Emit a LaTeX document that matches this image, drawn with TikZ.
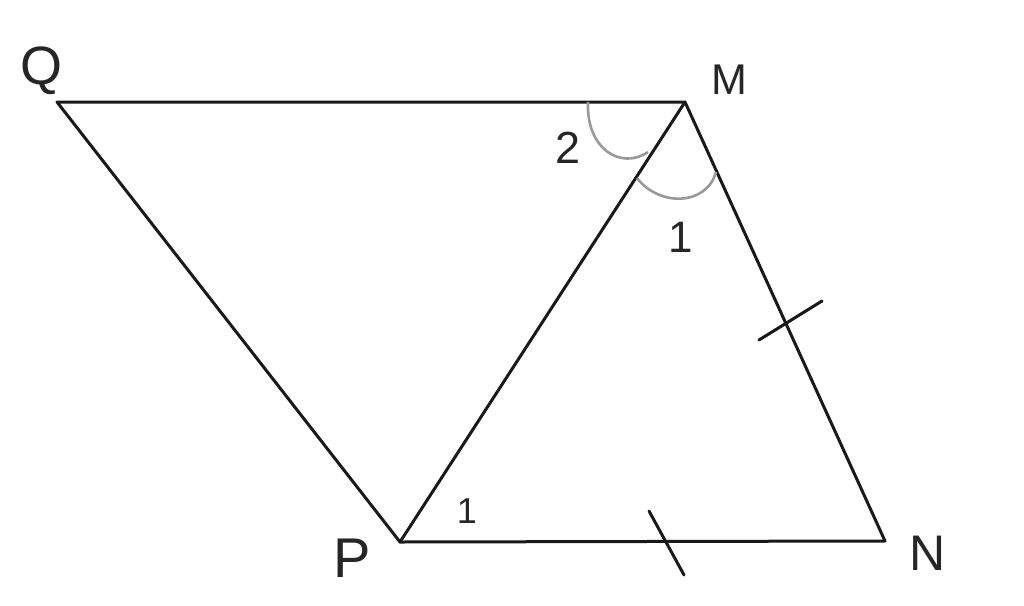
\documentclass[tikz,border=0pt]{standalone}
\usepackage{fontspec}
\setmainfont{Liberation Sans}
\begin{document}
\begin{tikzpicture}[x=1pt,y=-1pt,
  seg/.style={line width=3pt,line cap=round,line join=round,black!90},
  tick/.style={line width=3pt,line cap=round,black!90},
  angarc/.style={line width=2.6pt,gray!80},
  lbl/.style={anchor=base,inner sep=0pt,text=black!85}]
\useasboundingbox (0,0) rectangle (1024,605);
\coordinate (Q) at (57,102);
\coordinate (M) at (685,102);
\coordinate (P) at (400,542);
\coordinate (N) at (885,541);
% sides
\draw[seg] (Q) -- (M) -- (N) -- (P) -- cycle;
\draw[seg] (M) -- (P);
% ticks
\coordinate (t1a) at (759,340); \coordinate (t1b) at (822,301);
\coordinate (t2a) at (649,511); \coordinate (t2b) at (684,575);
\draw[tick] (t1a) -- (t1b);
\draw[tick] (t2a) -- (t2b);
% angle arcs
\coordinate (a2s) at (588,102); \coordinate (a2e) at (648,152);
\coordinate (a1s) at (637,178); \coordinate (a1e) at (716,172);
\draw[angarc] (a2s) .. controls (586,150) and (622,170) .. (a2e);
\draw[angarc] (a1s) .. controls (658,206) and (706,207) .. (a1e);
% labels
\node[lbl,font=\fontsize{54}{54}\selectfont] (lQ) at (42,84) {Q};
\node[lbl,font=\fontsize{43}{43}\selectfont] (lM) at (729,94) {M};
\node[lbl,font=\fontsize{56}{56}\selectfont] (lP) at (352,577) {P};
\node[lbl,font=\fontsize{50}{50}\selectfont] (lN) at (928,570) {N};
\node[lbl,font=\fontsize{45}{45}\selectfont] (l2) at (568,163) {2};
\node[lbl,font=\fontsize{44}{44}\selectfont] (l1a) at (681,252) {1};
\node[lbl,font=\fontsize{36}{36}\selectfont] (l1b) at (467,523) {1};
\end{tikzpicture}
\end{document}
